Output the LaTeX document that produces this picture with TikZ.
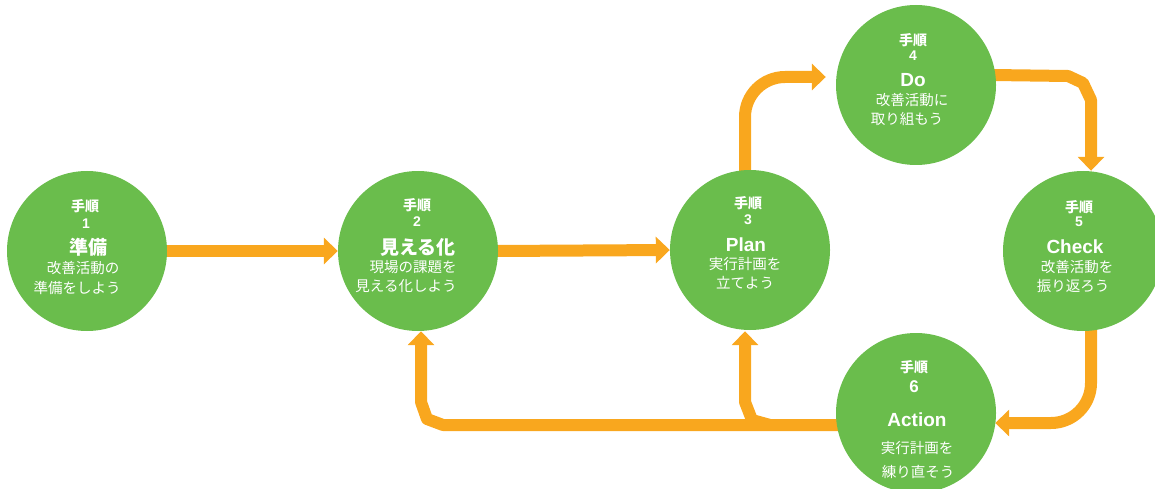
\documentclass[tikz,border=0pt]{standalone}
\usepackage{fontspec}
\setmainfont{Noto Sans CJK JP}
\newfontfamily\latinfont{Liberation Sans}
\usetikzlibrary{arrows.meta,backgrounds}
\definecolor{stepgreen}{HTML}{6ABD4C}
\definecolor{flow}{HTML}{F9A71E}
\tikzset{
  circ/.style={circle, fill=stepgreen, minimum size=160pt, inner sep=0pt},
  flowline/.style={draw=flow, line width=12pt, line join=round, -{Triangle[width=26pt,length=14pt]}},
  lbl/.style={text=white, font=\bfseries\fontsize{14}{14}\selectfont, inner sep=0pt},
  num/.style={text=white, font=\latinfont\bfseries\fontsize{14}{14}\selectfont, inner sep=0pt},
  ttl/.style={text=white, font=\bfseries\fontsize{19}{19}\selectfont, inner sep=0pt},
  ttlat/.style={text=white, font=\latinfont\bfseries\fontsize{19}{19}\selectfont, inner sep=0pt},
  sub/.style={text=white, font=\fontsize{14.5}{14.5}\selectfont, inner sep=0pt},
}
\begin{document}
\begin{tikzpicture}[x=1pt,y=-1pt]
\useasboundingbox (0,0) rectangle (1155,489);
% circles
\node[circ] (c1) at (87,251) {};
\node[circ] (c2) at (418,251) {};
\node[circ] (c3) at (750,250) {};
\node[circ] (c4) at (916,85) {};
\node[circ] (c5) at (1083,251) {};
\node[circ] (c6) at (916,413) {};
% connectors
\begin{scope}[on background layer]
\draw[flowline] ([xshift=-2pt]c1.east) -- (c2.west);
\draw[flowline] ([xshift=-2pt]c2.east) -- (c3.west);
\draw[flowline, rounded corners=40pt] ([xshift=-5pt,yshift=-3pt]c3.north) |- ([xshift=-10pt,yshift=8pt]c4.west);
\coordinate (b4a) at (1068,76);
\coordinate (b4b) at (1083,83);
\coordinate (b4c) at (1091,100);
\draw[flowline] ([xshift=-4pt,yshift=10pt]c4.east) -- (b4a) -- (b4b) -- (b4c) -- ([xshift=8pt]c5.north);
\draw[flowline, rounded corners=40pt] ([xshift=8pt,yshift=3pt]c5.south) |- ([xshift=-1pt,yshift=-10pt]c6.east);
\coordinate (b2a) at (443,425);
\coordinate (b2b) at (427,419);
\coordinate (b2c) at (421,402);
\draw[flowline] ([xshift=4pt,yshift=-12pt]c6.west) -- (b2a) -- (b2b) -- (b2c) -- ([xshift=3pt]c2.south);
\coordinate (j3) at (770,425);
\coordinate (b3a) at (752,420);
\coordinate (b3b) at (745,402);
\draw[flowline] (j3) -- (b3a) -- (b3b) -- ([xshift=-5pt,yshift=-1pt]c3.south);
\end{scope}
% texts circle 1
\node[lbl] (t1a) at (85,206) {手順};
\node[num] (t1b) at (86,224) {1};
\node[ttl] (t1c) at (88,247) {準備};
\node[sub] (t1d) at (83,268) {改善活動の};
\node[sub] (t1e) at (77,288) {準備をしよう};
% circle 2
\node[lbl] (t2a) at (417,205) {手順};
\node[num] (t2b) at (417,222) {2};
\node[ttl] (t2c) at (418,247) {見える化};
\node[sub] (t2d) at (413,267) {現場の課題を};
\node[sub] (t2e) at (406,286) {見える化しよう};
% circle 3
\node[lbl] (t3a) at (748,203) {手順};
\node[num] (t3b) at (748,220) {3};
\node[ttlat] (t3c) at (746,245) {Plan};
\node[sub] (t3d) at (745,264) {実行計画を};
\node[sub] (t3e) at (745,283) {立てよう};
% circle 4
\node[lbl] (t4a) at (913,40) {手順};
\node[num] (t4b) at (913,56) {4};
\node[ttlat] (t4c) at (913,80) {Do};
\node[sub] (t4d) at (912,100) {改善活動に};
\node[sub] (t4e) at (907,119) {取り組もう};
% circle 5
\node[lbl] (t5a) at (1079,207) {手順};
\node[num] (t5b) at (1079,222) {5};
\node[ttlat] (t5c) at (1075,247) {Check};
\node[sub] (t5d) at (1077,267) {改善活動を};
\node[sub] (t5e) at (1073,286) {振り返ろう};
% circle 6
\node[lbl] (t6a) at (914,367) {手順};
\node[num, font=\latinfont\bfseries\fontsize{17}{17}\selectfont] (t6b) at (914,387) {6};
\node[ttlat] (t6c) at (917,420) {Action};
\node[sub] (t6d) at (917,448) {実行計画を};
\node[sub] (t6e) at (918,472) {練り直そう};
\end{tikzpicture}
\end{document}
